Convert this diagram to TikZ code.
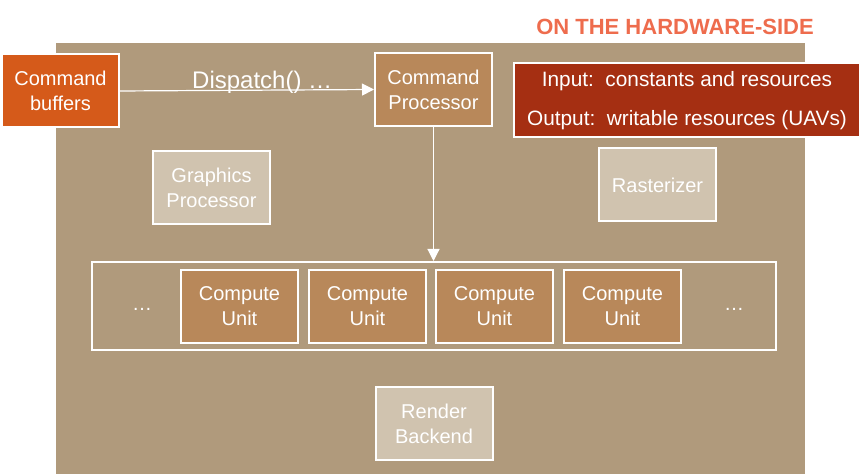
\documentclass[tikz,border=0pt]{standalone}
\usepackage{fontspec}
\setmainfont{Liberation Sans}
\usetikzlibrary{positioning, arrows.meta, calc}
\definecolor{gpubrown}{RGB}{176,154,124}
\definecolor{cmdorange}{RGB}{213,90,26}
\definecolor{unitbrown}{RGB}{184,136,90}
\definecolor{idlebeige}{RGB}{208,195,175}
\definecolor{iored}{RGB}{165,47,18}
\definecolor{titlecoral}{RGB}{238,108,77}

\begin{document}
\begin{tikzpicture}[x=0.5pt, y=-0.5pt,
  box/.style={draw=white, line width=1pt, align=center, minimum width=58.5pt, minimum height=36.5pt, text=white, font=\fontsize{10}{12.5}\selectfont, inner sep=2pt},
  cmdb/.style={box, fill=cmdorange},
  actb/.style={box, fill=unitbrown},
  idleb/.style={box, fill=idlebeige},
  arr/.style={-{Triangle[length=6pt, width=6pt]}, white, line width=0.6pt},
]
  \useasboundingbox (0,0) rectangle (862,474);
  \fill[gpubrown] (56,43) rectangle (805,474);
  \node[font=\bfseries\fontsize{11}{13}\selectfont, text=titlecoral] (title) at (675,27) {ON THE HARDWARE-SIDE};

  \node[cmdb] (cmdbuf) at (60.5,91) {Command\\buffers};
  \node[actb] (cmdproc) at (433.5,89.5) {Command\\Processor};
  \node[box, fill=iored, minimum width=173pt, minimum height=37pt, align=center, font=\fontsize{10.4}{12.5}\selectfont] (io) at (687,100.5)
    {Input:\ \ constants and resources\\[7pt]Output:\ \ writable resources (UAVs)};
  \node[idleb] (gfxproc) at (211.5,187.5) {Graphics\\Processor};
  \node[idleb] (raster) at (657.5,185) {Rasterizer};

  \node[draw=white, line width=1pt, minimum width=342pt, minimum height=44pt] (cuarray) at (434,306) {};
  \node[actb] (cu1) at (239.5,306.5) {Compute\\Unit};
  \node[actb] (cu2) at (367.5,306.5) {Compute\\Unit};
  \node[actb] (cu3) at (494.5,306.5) {Compute\\Unit};
  \node[actb] (cu4) at (622.5,306.5) {Compute\\Unit};
  \node[text=white, font=\fontsize{10}{12}\selectfont] (dotsl) at (142,309) {\dots};
  \node[text=white, font=\fontsize{10}{12}\selectfont] (dotsr) at (734,309) {\dots};

  \node[idleb] (render) at (434,424) {Render\\Backend};

  \draw[arr] (cmdbuf.east) -- node[pos=0.56, above=-5.5pt, text=white, font=\fontsize{12}{14}\selectfont]{Dispatch() \dots} (cmdproc.west);
  \draw[arr] (cmdproc.south) -- (cmdproc.south |- cuarray.north);
\end{tikzpicture}
\end{document}
